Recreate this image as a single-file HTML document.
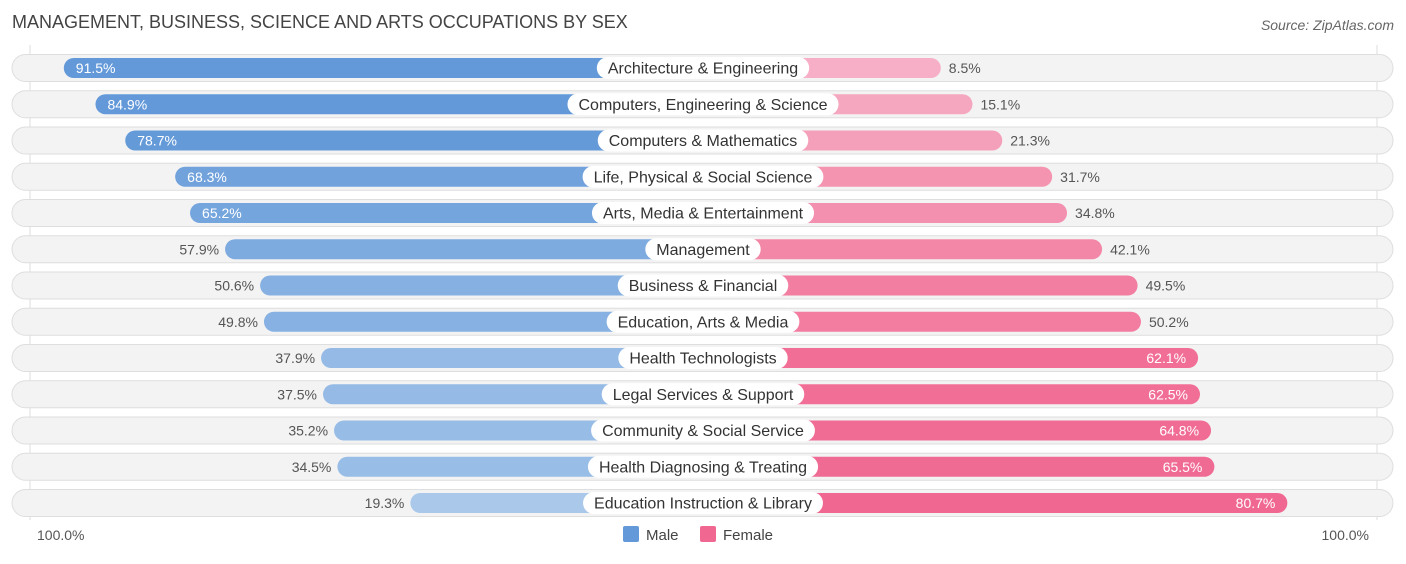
<!DOCTYPE html>
<html><head><meta charset="utf-8"><style>
body{margin:0;width:1406px;height:559px;background:#fff;font-family:"Liberation Sans",sans-serif;overflow:hidden}
</style></head><body>
<svg id="c" width="1406" height="559">
<text x="12" y="28" font-size="18" fill="#444">MANAGEMENT, BUSINESS, SCIENCE AND ARTS OCCUPATIONS BY SEX</text>
<text x="1394" y="30" font-size="14" fill="#666" font-style="italic" text-anchor="end">Source: ZipAtlas.com</text>
<line x1="30" y1="45" x2="30" y2="520" stroke="#ddd"/>
<line x1="1377" y1="45" x2="1377" y2="520" stroke="#ddd"/>
<g id="rows"></g>
<text x="37" y="540" font-size="14" fill="#555">100.0%</text>
<text x="1369" y="540" font-size="14" fill="#555" text-anchor="end">100.0%</text>
<rect x="623" y="526" width="16" height="16" rx="2" fill="#6399d9"/>
<text x="646" y="540" font-size="15" fill="#444">Male</text>
<rect x="700" y="526" width="16" height="16" rx="2" fill="#f06892"/>
<text x="723" y="540" font-size="15" fill="#444">Female</text>
</svg>
<script>
const categories=["Architecture & Engineering","Computers, Engineering & Science","Computers & Mathematics","Life, Physical & Social Science","Arts, Media & Entertainment","Management","Business & Financial","Education, Arts & Media","Health Technologists","Legal Services & Support","Community & Social Service","Health Diagnosing & Treating","Education Instruction & Library"];
const male=[91.5,84.9,78.7,68.3,65.2,57.9,50.6,49.8,37.9,37.5,35.2,34.5,19.3];
const female=[8.5,15.1,21.3,31.7,34.8,42.1,49.5,50.2,62.1,62.5,64.8,65.5,80.7];
const NS="http://www.w3.org/2000/svg";
const g=document.getElementById('rows');
const cx=703, mZero=503, fZero=900, k=4.8;
const xm=v=>mZero-v*k, xf=v=>fZero+v*k, yRow=i=>68+i*36.25;
function mix(a,b,t){return 'rgb('+a.map((x,i)=>Math.round(x+(b[i]-x)*t)).join(',')+')';}
function mk(tag,at){const e=document.createElementNS(NS,tag);for(const k in at)e.setAttribute(k,at[k]);g.appendChild(e);return e;}
categories.forEach((c,i)=>{
 const y=yRow(i);
 const bg=mk('rect',{x:12,y:y-13.5,width:1381,height:27,rx:13.5,fill:'#f3f3f3',stroke:'#dedede'});
 
 
 const mv=male[i], fv=female[i];
 const mb=mk('rect',{x:xm(mv),y:y-10,width:cx-xm(mv),height:20,rx:10,fill:mix([169,200,234],[99,153,217],Math.min(1,Math.max(0,(mv-20)/60)))});
 
 
 const fb=mk('rect',{x:cx,y:y-10,width:xf(fv)-cx,height:20,rx:10,fill:mix([246,176,198],[240,104,146],Math.min(1,Math.max(0,(fv-8)/60)))});
 
 
 const mIn=mv>60, fIn=fv>60;
 const mt=mk('text',{x:mIn?xm(mv)+12:xm(mv)-6,y:y+5,'font-size':14,fill:mIn?'#fff':'#555','text-anchor':mIn?'start':'end'});
 mt.textContent=mv.toFixed(1)+'%';
 
 
 const ft=mk('text',{x:fIn?xf(fv)-12:xf(fv)+8,y:y+5,'font-size':14,fill:fIn?'#fff':'#555','text-anchor':fIn?'end':'start'});
 ft.textContent=fv.toFixed(1)+'%';
 
 
 const lt=mk('text',{x:cx,y:y+5.5,'font-size':16,fill:'#333','text-anchor':'middle'});
 lt.textContent=c;
 const w=lt.getComputedTextLength()+22;
 const lb=mk('rect',{x:cx-w/2,y:y-11,width:w,height:22,rx:11,fill:'#fff'});
 
 
 g.appendChild(lt);
 
 
});
</script>
</body></html>
